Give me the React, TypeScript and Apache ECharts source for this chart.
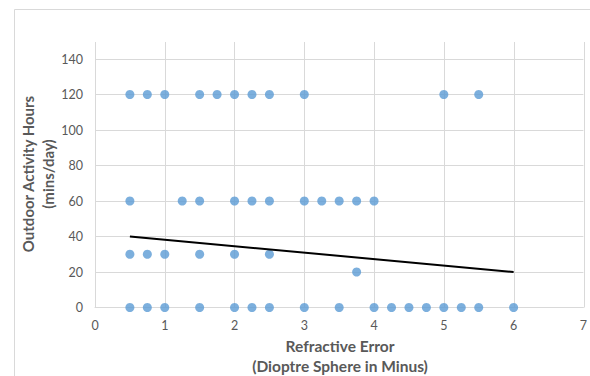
import React, { useEffect, useRef } from "react";
import * as echarts from "echarts";

// Scatter data: refractive error (x) vs outdoor activity (y)
const row120X = [0.5, 0.75, 1, 1.5, 1.75, 2, 2.25, 2.5, 3, 5, 5.5];
const row60X = [0.5, 1.25, 1.5, 2, 2.25, 2.5, 3, 3.25, 3.5, 3.75, 4];
const row30X = [0.5, 0.75, 1, 1.5, 2, 2.5];
const row20X = [3.75];
const row0X = [0.5, 0.75, 1, 1.5, 2, 2.25, 2.5, 3, 3.5, 4, 4.25, 4.5, 4.75, 5, 5.25, 5.5, 6];
const rowYValues = [120, 60, 30, 20, 0];

const trendX = [0.5, 6];
const trendY = [40, 20];

const xTitle = "Refractive Error\n(Dioptre Sphere in Minus)";
const yTitle = "Outdoor Activity Hours\n(mins/day)";

export default function App() {
  const ref = useRef<HTMLDivElement>(null);
  useEffect(() => {
    if (!ref.current) return;
    const chart = echarts.init(ref.current, undefined, { renderer: "svg" });
    const rows = [row120X, row60X, row30X, row20X, row0X];
    const points: number[][] = [];
    rows.forEach((xs, i) => xs.forEach((x) => points.push([x, rowYValues[i]])));
    const font = "Lato, 'Open Sans', sans-serif";
    const grey = "#d9d9d9";
    chart.setOption({
      animation: false,
      graphic: [
        {
          type: "rect",
          shape: { x: 14.5, y: 9.5, width: 620, height: 420 },
          style: { fill: "none", stroke: grey, lineWidth: 1 },
          silent: true,
        },
        {
          type: "text",
          x: 340,
          y: 356,
          style: {
            text: xTitle,
            fill: "#595959",
            font: `bold 15.5px ${font}`,
            textAlign: "center",
            textVerticalAlign: "middle",
            lineHeight: 20,
          },
        },
        {
          type: "text",
          x: 38,
          y: 174,
          rotation: Math.PI / 2,
          style: {
            text: yTitle,
            fill: "#595959",
            font: `bold 15px ${font}`,
            textAlign: "center",
            textVerticalAlign: "middle",
            lineHeight: 20,
          },
        },
      ],
      grid: [
        { left: 95, right: 6, top: 42, bottom: 68.5, containLabel: false },
        { left: 95, right: 6, top: 59, bottom: 68.5, containLabel: false },
      ],
      xAxis: [
        {
          gridIndex: 0,
          type: "value",
          min: 0,
          max: 7,
          interval: 1,
          axisLine: { show: false },
          axisTick: { show: false },
          axisLabel: { show: false },
          splitLine: { show: true, lineStyle: { color: grey, width: 1 } },
        },
        {
          gridIndex: 1,
          type: "value",
          min: 0,
          max: 7,
          interval: 1,
          axisLine: { show: true, lineStyle: { color: grey, width: 1 } },
          axisTick: { show: false },
          axisLabel: { color: "#595959", fontSize: 12.5, fontFamily: font, margin: 11 },
          splitLine: { show: false },
        },
      ],
      yAxis: [
        {
          gridIndex: 0,
          type: "value",
          min: 0,
          max: 150,
          show: false,
          splitLine: { show: false },
        },
        {
          gridIndex: 1,
          type: "value",
          min: 0,
          max: 140,
          interval: 20,
          axisLine: { show: false },
          axisTick: { show: false },
          axisLabel: { color: "#595959", fontSize: 12.5, fontFamily: font, margin: 12 },
          splitLine: { show: true, lineStyle: { color: grey, width: 1 } },
        },
      ],
      series: [
        {
          type: "scatter",
          xAxisIndex: 1,
          yAxisIndex: 1,
          data: points,
          symbol: "circle",
          symbolSize: 9,
          itemStyle: { color: "#5b9bd5" },
          z: 3,
        },
        {
          type: "line",
          xAxisIndex: 1,
          yAxisIndex: 1,
          data: trendX.map((x, i) => [x, trendY[i]]),
          symbol: "none",
          lineStyle: { color: "#000000", width: 2 },
          z: 4,
        },
      ],
    });
    return () => chart.dispose();
  }, []);
  return (
    <div
      ref={ref}
      style={{ position: "absolute", left: 0, top: 0, width: 590, height: 376 }}
    />
  );
}
